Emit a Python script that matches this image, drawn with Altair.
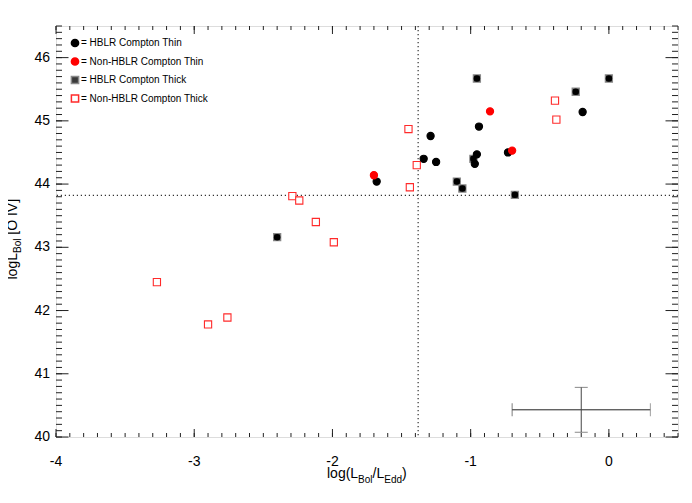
import altair as alt
import pandas as pd

# ---------------- data ----------------
categories = ["HBLR Compton Thin", "Non-HBLR Compton Thin",
              "HBLR Compton Thick", "Non-HBLR Compton Thick"]

thin_hblr_x = [-1.68, -1.29, -1.34, -1.25, -0.94, -0.955, -0.97, -0.73, -0.19]
thin_hblr_y = [44.04, 44.76, 44.40, 44.35, 44.91, 44.47, 44.32, 44.50, 45.14]

thin_non_x = [-1.70, -0.86, -0.70]
thin_non_y = [44.14, 45.15, 44.53]

thick_hblr_x = [-2.40, -1.10, -1.06, -0.98, -0.955, -0.68, -0.24, 0.00]
thick_hblr_y = [43.16, 44.04, 43.93, 44.40, 45.67, 43.83, 45.46, 45.67]

thick_non_x = [-3.27, -2.90, -2.76, -2.29, -2.24, -2.12, -1.99, -1.45, -1.39, -1.44, -0.39, -0.38]
thick_non_y = [42.45, 41.78, 41.89, 43.81, 43.74, 43.40, 43.08, 44.87, 44.30, 43.95, 45.32, 45.02]

vline_x = [-1.38]
hline_y = [43.82]

err_x = [-0.20]
err_y = [40.43]
err_dx = [0.50]
err_dy = [0.355]

x_domain = [-4, 0.5]
y_domain = [40, 46.5]
x_major = [-4, -3, -2, -1, 0]
x_labels = ["-4", "-3", "-2", "-1", "0"]
y_major = [40, 41, 42, 43, 44, 45, 46]
y_labels = ["40", "41", "42", "43", "44", "45", "46"]
x_minor = [round(-4 + 0.1 * i, 1) for i in range(46)]
y_minor = [round(40 + 0.1 * i, 1) for i in range(66)]

# ---------------- build tables ----------------
rows = []
for cat, xs_, ys_ in zip(categories,
                         [thin_hblr_x, thin_non_x, thick_hblr_x, thick_non_x],
                         [thin_hblr_y, thin_non_y, thick_hblr_y, thick_non_y]):
    for a, b in zip(xs_, ys_):
        rows.append({"cat": cat, "x": a, "y": b})
df = pd.DataFrame(rows)
df_thick = pd.DataFrame({"x": thick_hblr_x, "y": thick_hblr_y})

W, H = 622, 411
FONT = "Liberation Sans"
TICK_COLOR = "#222222"
xs = alt.Scale(domain=x_domain, nice=False, zero=False)
ys = alt.Scale(domain=y_domain, nice=False, zero=False)
X_PER_PX = (x_domain[1] - x_domain[0]) / W
Y_PER_PX = (y_domain[1] - y_domain[0]) / H


def X(field):
    return alt.X(field, scale=xs, axis=None)


def Y(field):
    return alt.Y(field, scale=ys, axis=None)


legend = alt.Legend(title=None, orient="none", legendX=14, legendY=12,
                    labelExpr="'= ' + datum.label", labelFontSize=10,
                    labelFont=FONT, labelColor="black", rowPadding=4.5,
                    labelOffset=1, padding=0, direction="vertical")

fill_scale = alt.Scale(domain=categories, range=["black", "red", "#3a3a3a", "white"])
stroke_scale = alt.Scale(domain=categories, range=["black", "red", "#8a8a8a", "#ff2a2a"])
shape_scale = alt.Scale(domain=categories, range=["circle", "circle", "square", "square"])
size_scale = alt.Scale(domain=categories, range=[52, 52, 64, 50])

points = alt.Chart(df).mark_point(filled=False, strokeWidth=1.1, opacity=1).encode(
    x=X("x:Q"),
    y=Y("y:Q"),
    fill=alt.Fill("cat:N", scale=fill_scale, legend=legend),
    stroke=alt.Stroke("cat:N", scale=stroke_scale, legend=legend),
    shape=alt.Shape("cat:N", scale=shape_scale, legend=legend),
    size=alt.Size("cat:N", scale=size_scale, legend=legend),
    order=alt.Order("order:Q"),
).transform_calculate(
    order="datum.cat == 'HBLR Compton Thick' ? 0 : (datum.cat == 'Non-HBLR Compton Thick' ? 1 : (datum.cat == 'HBLR Compton Thin' ? 2 : 3))"
)

thick_dots = alt.Chart(df_thick).mark_point(shape="circle", filled=True, color="black",
                                            size=42, opacity=1).encode(
    x=X("x:Q"), y=Y("y:Q"))


# ---------------- inward tick marks on all four sides ----------------
def xticks(values, edge, length_px, direction):
    d = pd.DataFrame({"v": values,
                      "b0": [edge] * len(values),
                      "b1": [edge + direction * length_px * Y_PER_PX] * len(values)})
    return alt.Chart(d).mark_rule(color=TICK_COLOR, strokeWidth=1, opacity=1).encode(
        x=X("v:Q"), y=Y("b0:Q"), y2="b1:Q")


def yticks(values, edge, length_px, direction):
    d = pd.DataFrame({"v": values,
                      "b0": [edge] * len(values),
                      "b1": [edge + direction * length_px * X_PER_PX] * len(values)})
    return alt.Chart(d).mark_rule(color=TICK_COLOR, strokeWidth=1, opacity=1).encode(
        y=Y("v:Q"), x=X("b0:Q"), x2="b1:Q")


ticks = [
    xticks(x_major, y_domain[0], 8, 1), xticks(x_minor, y_domain[0], 4, 1),
    xticks(x_major, y_domain[1], 8, -1), xticks(x_minor, y_domain[1], 4, -1),
    yticks(y_major, x_domain[0], 12.5, 1), yticks(y_minor, x_domain[0], 6, 1),
    yticks(y_major, x_domain[1], 12.5, -1), yticks(y_minor, x_domain[1], 6, -1),
]

# ---------------- tick labels (through the scales) ----------------
xlab = alt.Chart(pd.DataFrame({"v": x_major, "t": x_labels})).mark_text(
    align="center", baseline="alphabetic", fontSize=14, font=FONT, color="black").encode(
    x=X("v:Q"), y=alt.value(H + 29), text="t:N")
ylab = alt.Chart(pd.DataFrame({"v": y_major, "t": y_labels})).mark_text(
    align="right", baseline="middle", fontSize=14, font=FONT, color="black").encode(
    y=Y("v:Q"), x=alt.value(-6), text="t:N")

vline = alt.Chart(pd.DataFrame({"x": vline_x})).mark_rule(
    strokeDash=[1.2, 2.8], color="#333333", strokeWidth=1.2).encode(x=X("x:Q"))
hline = alt.Chart(pd.DataFrame({"y": hline_y})).mark_rule(
    strokeDash=[1.2, 2.8], color="#333333", strokeWidth=1.2).encode(y=Y("y:Q"))

err_df = pd.DataFrame({"x": err_x, "y": err_y, "dx": err_dx, "dy": err_dy})
err_base = alt.Chart(err_df).transform_calculate(
    x0="datum.x - datum.dx", x1="datum.x + datum.dx",
    y0="datum.y - datum.dy", y1="datum.y + datum.dy")
err_h = err_base.mark_rule(color="#222222", strokeWidth=1).encode(
    x=X("x0:Q"), x2="x1:Q", y=Y("y:Q"))
err_v = err_base.mark_rule(color="#444444", strokeWidth=1).encode(
    y=Y("y0:Q"), y2="y1:Q", x=X("x:Q"))
cap_l = err_base.mark_tick(orient="vertical", size=13, thickness=1, color="#444444").encode(
    x=X("x0:Q"), y=Y("y:Q"))
cap_r = err_base.mark_tick(orient="vertical", size=13, thickness=1, color="#777777").encode(
    x=X("x1:Q"), y=Y("y:Q"))
cap_t = err_base.mark_tick(orient="horizontal", size=13, thickness=1, color="#555555").encode(
    x=X("x:Q"), y=Y("y1:Q"))
cap_b = err_base.mark_tick(orient="horizontal", size=13, thickness=1, color="#555555").encode(
    x=X("x:Q"), y=Y("y0:Q"))

one = pd.DataFrame({"a": [0]})


def txt(s, px, py, size, angle=0):
    kw = dict(align="left", baseline="alphabetic", fontSize=size, font=FONT, color="black")
    if angle:
        kw["angle"] = angle
    return alt.Chart(one).mark_text(**kw).encode(
        x=alt.value(px), y=alt.value(py), text=alt.value(s))


# x title: log(L_Bol/L_Edd)
xt0 = 271.0
xtitle = [
    txt("log(L", xt0, 452, 14),
    txt("Bol", xt0 + 31.1, 457, 10),
    txt("/L", xt0 + 31.1 + 14.45, 452, 14),
    txt("Edd", xt0 + 31.1 + 14.45 + 11.68, 457, 10),
    txt(")", xt0 + 31.1 + 14.45 + 11.68 + 17.79, 452, 14),
]
# y title: logL_Bol [O IV]
yt0 = 253.5
ytitle = [
    txt("logL", -39, yt0, 14, 270),
    txt("Bol", -35, yt0 - 26.46, 10, 270),
    txt("[O IV]", -39, yt0 - 26.46 - 14.45 - 3.9, 14, 270),
]

chart = alt.layer(
    xlab, ylab, vline, hline, err_h, err_v, cap_l, cap_r, cap_t, cap_b,
    points, thick_dots, *xtitle, *ytitle, *ticks
).properties(
    width=W, height=H,
    autosize=alt.AutoSizeParams(type="none"),
    padding={"left": 48, "top": 18, "right": 6, "bottom": 58},
).configure_view(stroke="#222222", strokeWidth=1).configure(background="white")

chart.save("out.html", embed_options={"renderer": "svg", "actions": False})
